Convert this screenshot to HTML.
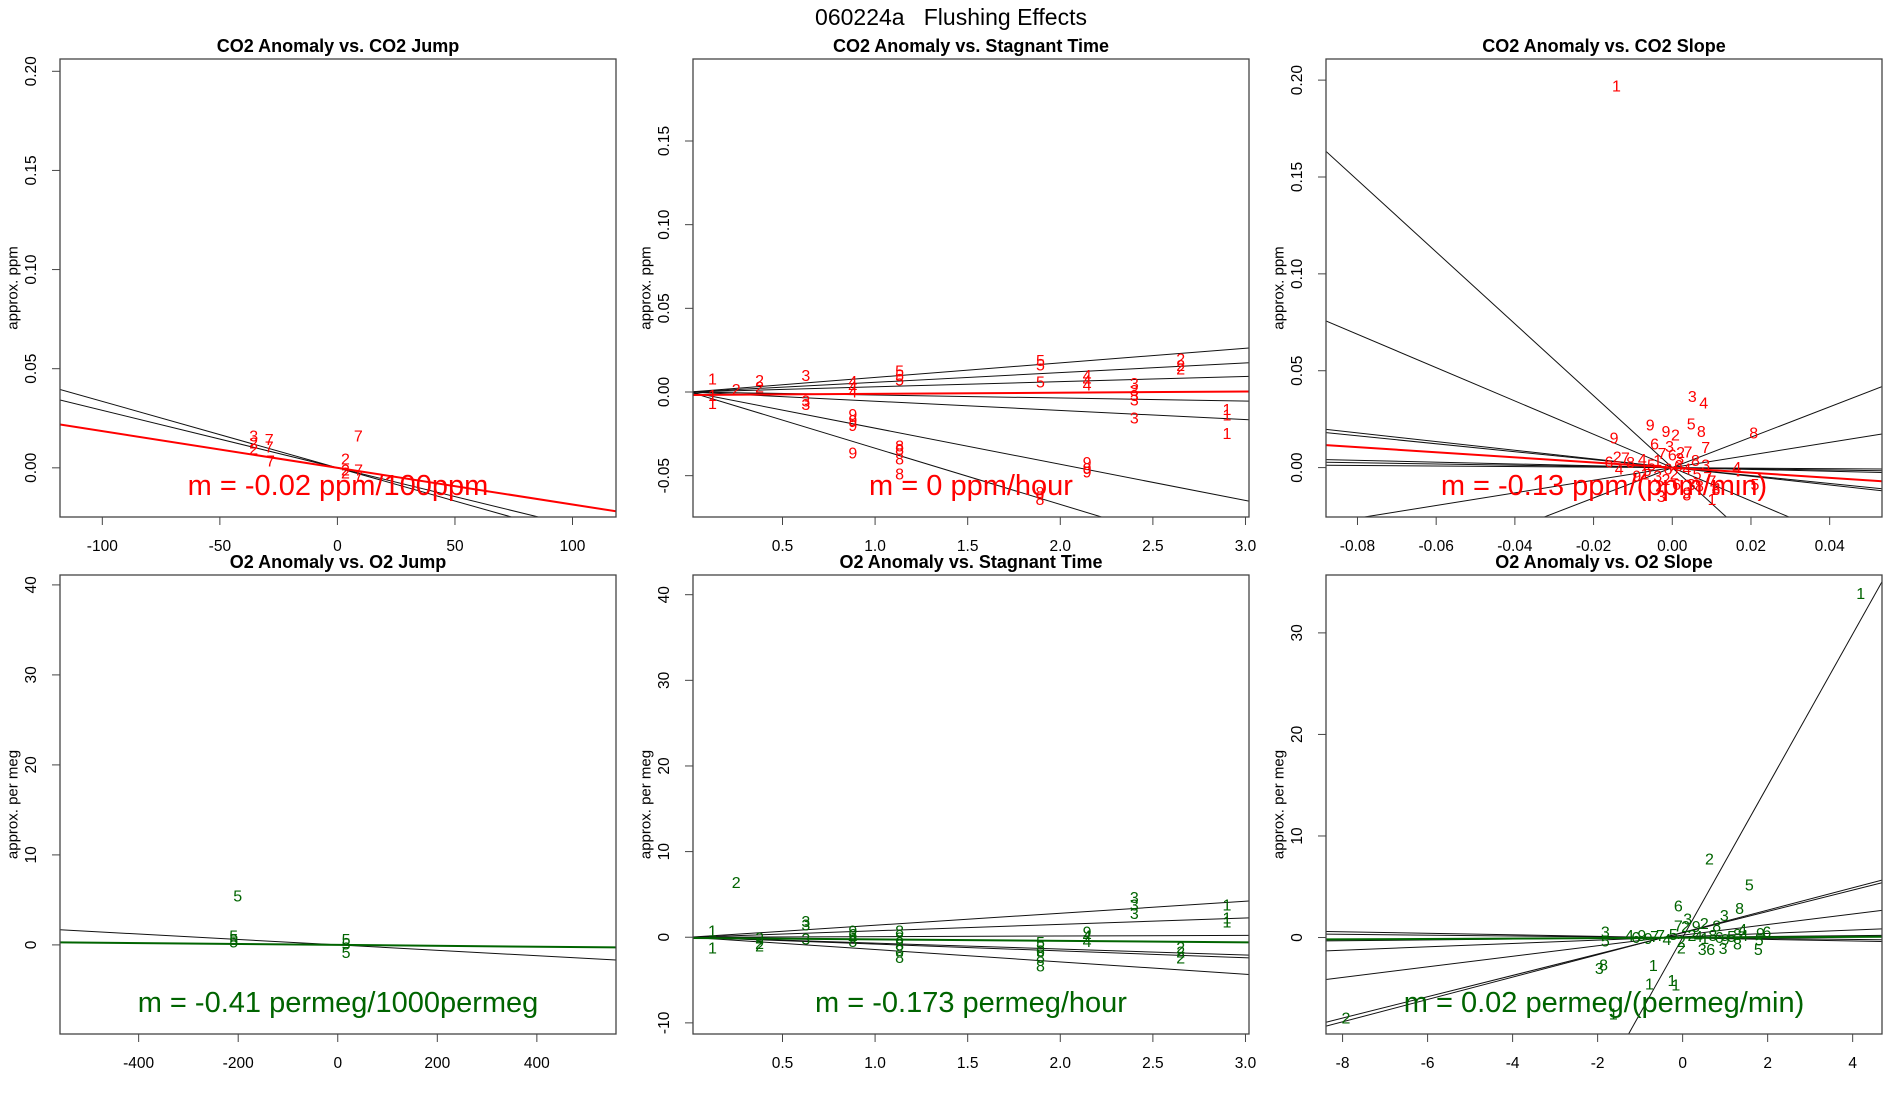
<!DOCTYPE html>
<html><head><meta charset="utf-8">
<style>
html,body{margin:0;padding:0;background:#fff;width:1900px;height:1100px;overflow:hidden;}
svg{display:block;font-family:"Liberation Sans",Arial,sans-serif;}
</style></head>
<body>
<svg id="fig" width="1900" height="1100" viewBox="0 0 1900 1100" xmlns="http://www.w3.org/2000/svg">
<text x="951" y="25" text-anchor="middle" font-size="23" fill="#000" style="white-space:pre" xml:space="preserve">060224a   Flushing Effects</text>
</svg>
<script>
// ---------- Panel 1: CO2 Anomaly vs. CO2 Jump ----------
const p1X=[-35.6,-35.6,-35.6,-29,-29,-28.5,8.9,3.4,3.4,3.4,9,9];
const p1Y=[0.0155,0.012,0.009,0.0137,0.010,0.003,0.0155,0.004,-0.0015,-0.003,-0.0015,-0.005];
const p1Lab=["3","2","2","7","7","7","7","2","2","2","7","7"];
const p1Slopes=[-0.000335,-0.000290];
const p1Icepts=[0,0];
const p1FitSlope=-0.000185, p1FitIcept=0;
const p1XTicks=[-100,-50,0,50,100];
const p1XTickLabels=["-100","-50","0","50","100"];
const p1YTicks=[0,0.05,0.10,0.15,0.20];
const p1YTickLabels=["0.00","0.05","0.10","0.15","0.20"];

// ---------- Panel 2: CO2 Anomaly vs. Stagnant Time ----------
const p2X=[0.122,0.122,0.122,0.25,0.376,0.376,0.626,0.626,0.626,0.88,0.88,0.88,0.88,0.88,0.88,0.88,1.132,1.132,1.132,1.132,1.132,1.132,1.132,1.893,1.893,1.893,1.89,1.89,2.145,2.145,2.145,2.145,2.145,2.145,2.4,2.4,2.4,2.4,2.4,2.65,2.65,2.65,2.9,2.9,2.9];
const p2Y=[0.0072,-0.0027,-0.0076,0.0008,0.0063,0.0025,0.0093,-0.0059,-0.008,0.0057,0.0025,-0.0006,-0.0139,-0.0175,-0.0206,-0.037,0.012,0.0093,0.0067,-0.0329,-0.035,-0.0407,-0.0497,0.0183,0.0156,0.0053,-0.0607,-0.0649,0.0093,0.0063,0.0036,-0.0428,-0.0464,-0.0485,0.0046,0.0004,-0.0027,-0.0055,-0.016,0.019,0.0152,0.013,-0.0112,-0.0143,-0.0253];
const p2Lab=["1","1","1","2","2","2","3","3","3","4","4","4","9","9","9","9","5","5","5","8","8","8","8","5","5","5","8","8","4","4","4","9","9","9","3","3","3","3","3","2","2","2","1","1","1"];
const p2Slopes=[0.0087,0.0058,0.0031,-0.0018,-0.0055,-0.0216,-0.0336];
const p2Icepts=[0,0,0,0,0,0,0];
const p2FitSlope=0.0007, p2FitIcept=-0.0018;
const p2XTicks=[0.5,1.0,1.5,2.0,2.5,3.0];
const p2XTickLabels=["0.5","1.0","1.5","2.0","2.5","3.0"];
const p2YTicks=[-0.05,0,0.05,0.10,0.15];
const p2YTickLabels=["-0.05","0.00","0.05","0.10","0.15"];

// ---------- Panel 3: CO2 Anomaly vs. CO2 Slope ----------
const p3X=[-0.0142,0.0051,0.0080,-0.0056,-0.0148,-0.0016,0.0008,0.0048,0.0074,0.0207,-0.0045,-0.0007,0.0085,0.0164,0.021,0.0101,-0.0028,0.0037,
-0.0161,-0.0140,-0.0119,-0.0135,-0.0106,-0.0076,-0.0053,-0.0037,-0.0026,0.0000,0.0021,0.0040,0.0019,0.0059,0.0085,0.0016,-0.0011,0.0005,0.0037,0.0063,0.0090,0.0101,-0.0090,-0.0069,-0.0064,-0.0037,-0.0016,-0.0032,0.0011,0.0048,0.0069,0.0111,0.0037,0.0111];
const p3Y=[0.1964,0.0361,0.0329,0.0215,0.0148,0.018,0.0162,0.0219,0.018,0.0174,0.0116,0.0103,0.0098,-0.0004,-0.0092,-0.0169,-0.0155,-0.0137,
0.0023,0.0050,0.0044,-0.0012,0.0020,0.0037,0.0009,0.0032,0.0068,0.0059,0.0073,0.0076,0.0041,0.0032,0.0009,0.0005,-0.0012,-0.0039,-0.0012,-0.0039,-0.0057,-0.0075,-0.0048,-0.0039,-0.0021,-0.0048,-0.0066,-0.0101,-0.0092,-0.0092,-0.0101,-0.0110,-0.0146,-0.0119];
const p3Lab=["1","3","4","9","9","9","2","5","8","8","6","3","7","4","5","1","3","9",
"6","2","7","4","8","4","5","1","7","6","2","7","3","8","3","6","6","2","4","5","7","7","9","1","5","3","2","2","6","3","8","8","8","3"];
const p3Slopes=[-1.855,-0.86,-0.224,-0.205,-0.047,-0.031,-0.014,0.784,0.326];
const p3Icepts=[0,0,0,0,0,0,0,0,0];
const p3FitSlope=-0.132, p3FitIcept=0;
const p3XTicks=[-0.08,-0.06,-0.04,-0.02,0,0.02,0.04];
const p3XTickLabels=["-0.08","-0.06","-0.04","-0.02","0.00","0.02","0.04"];
const p3YTicks=[0,0.05,0.10,0.15,0.20];
const p3YTickLabels=["0.00","0.05","0.10","0.15","0.20"];

// ---------- Panel 4: O2 Anomaly vs. O2 Jump ----------
const p4X=[-201,-209,-209,-209,16.8,16.8,16.8];
const p4Y=[5.3,0.86,0.47,0.2,0.47,0,-0.98];
const p4Lab=["5","5","5","5","5","5","5"];
const p4Slopes=[-0.00301];
const p4Icepts=[0];
const p4FitSlope=-0.0005, p4FitIcept=0;
const p4XTicks=[-400,-200,0,200,400];
const p4XTickLabels=["-400","-200","0","200","400"];
const p4YTicks=[0,10,20,30,40];
const p4YTickLabels=["0","10","20","30","40"];

// ---------- Panel 5: O2 Anomaly vs. Stagnant Time ----------
const p5X=[0.25,0.122,0.122,0.376,0.376,0.376,0.626,0.626,0.626,0.88,0.88,0.88,0.88,1.132,1.132,1.132,1.132,1.132,1.893,1.893,1.893,1.893,1.893,2.145,2.145,2.145,2.4,2.4,2.4,2.65,2.65,2.65,2.9,2.9,2.9];
const p5Y=[6.25,0.62,-1.36,-0.2,-0.82,-1.15,1.73,1.32,-0.33,0.62,0.2,-0.2,-0.62,0.62,-0.2,-1.03,-1.64,-2.47,-0.74,-1.23,-1.73,-2.47,-3.5,0.49,0,-0.62,4.52,3.62,2.67,-1.32,-1.85,-2.55,3.62,2.14,1.64];
const p5Lab=["2","1","1","2","2","2","3","3","3","9","6","4","8","8","8","8","8","8","5","5","6","8","8","9","4","4","3","3","3","2","2","2","1","1","1"];
const p5Slopes=[1.40,0.75,0.07,-0.69,-0.80,-1.44];
const p5Icepts=[0,0,0,0,0,0];
const p5FitSlope=-0.173, p5FitIcept=-0.08;
const p5XTicks=[0.5,1.0,1.5,2.0,2.5,3.0];
const p5XTickLabels=["0.5","1.0","1.5","2.0","2.5","3.0"];
const p5YTicks=[-10,0,10,20,30,40];
const p5YTickLabels=["-10","0","10","20","30","40"];

// ---------- Panel 6: O2 Anomaly vs. O2 Slope ----------
const p6X=[4.19,0.63,1.57,1.34,-0.1,0.98,0.12,-1.82,-1.82,-1.96,-1.86,-0.69,-0.78,-0.25,-0.16,-1.63,-7.92,0.46,0.66,0.95,1.29,1.78,1.8,1.98,1.83,-0.03,-0.03,
-1.25,-1.1,-0.96,-0.81,-0.66,-0.52,-0.37,-0.22,0.22,0.37,0.52,0.71,0.86,1.0,1.15,1.29,1.44,-0.1,0.07,0.32,0.51,0.8,1.41];
const p6Y=[33.8,7.65,5.07,2.78,2.99,2.09,1.74,0.45,-0.42,-3.13,-2.78,-2.85,-4.66,-4.31,-4.76,-7.65,-8.0,-1.29,-1.29,-1.18,-0.76,-1.29,-0.35,0.45,0.28,-1.11,-0.5,
0.1,-0.1,0.1,-0.2,0,0.1,-0.3,0.2,0.1,0,-0.2,0.1,-0.1,-0.3,0,0.2,0.1,1.05,0.98,0.98,1.26,1.05,0.7];
const p6Lab=["1","2","5","8","6","3","3","3","5","3","8","1","1","1","1","1","2","3","6","3","8","5","5","6","9","2","2",
"4","6","9","9","7","7","4","5","2","4","1","8","6","9","5","8","4","7","2","9","2","8","4"];
const p6Slopes=[7.47,0.52,1.05,1.10,0.165,-0.075,-0.042,0.042];
const p6Icepts=[0,0.234,0.47,0.5,0.074,-0.034,-0.019,0.019];
const p6FitSlope=0.02, p6FitIcept=-0.02;
const p6XTicks=[-8,-6,-4,-2,0,2,4];
const p6XTickLabels=["-8","-6","-4","-2","0","2","4"];
const p6YTicks=[0,10,20,30];
const p6YTickLabels=["0","10","20","30"];

const NS="http://www.w3.org/2000/svg";
const svg=document.getElementById('fig');
function mk(tag,attrs,parent){const e=document.createElementNS(NS,tag);for(const k in attrs)e.setAttribute(k,attrs[k]);(parent||svg).appendChild(e);return e;}

function panel(id,L,T,R,B,xd,yd,title,ylab,xs,ys,labs,slopes,icepts,fs,fi,color,xt,xtl,yt,ytl,mtext,mY){
  const g=mk('g',{});
  
  
  const sx=v=>L+(v-xd[0])/(xd[1]-xd[0])*(R-L);
  const sy=v=>B-(v-yd[0])/(yd[1]-yd[0])*(B-T);
  const cp=mk('clipPath',{id:'clip-'+id},g);
  mk('rect',{x:L,y:T,width:R-L,height:B-T},cp);
  const t=mk('text',{x:(L+R)/2,y:T-7,'text-anchor':'middle','font-size':18,'font-weight':'bold',fill:'#000'},g);
  t.textContent=title;
  
  
  const yl=mk('text',{x:L-47,y:(T+B)/2,'text-anchor':'middle','font-size':15,fill:'#000',transform:`rotate(-90 ${L-47} ${(T+B)/2})`,'dominant-baseline':'central'},g);
  yl.textContent=ylab;
  
  
  const lg=mk('g',{'clip-path':`url(#clip-${id})`},g);
  
  
  for(let i=0;i<slopes.length;i++){
    const l=mk('line',{x1:sx(xd[0]),y1:sy(icepts[i]+slopes[i]*xd[0]),x2:sx(xd[1]),y2:sy(icepts[i]+slopes[i]*xd[1]),stroke:'#111','stroke-width':1},lg);
    
    
  }
  const fl=mk('line',{x1:sx(xd[0]),y1:sy(fi+fs*xd[0]),x2:sx(xd[1]),y2:sy(fi+fs*xd[1]),stroke:color,'stroke-width':2},lg);
  
  
  for(let i=0;i<xs.length;i++){
    const p=mk('text',{x:sx(xs[i]),y:sy(ys[i]),'text-anchor':'middle','dominant-baseline':'central','font-size':16,fill:color},lg);
    p.textContent=labs[i];
    
    
  }
  const box=mk('rect',{x:L,y:T,width:R-L,height:B-T,fill:'none',stroke:'#444','stroke-width':1.3},g);
  
  
  for(let i=0;i<xt.length;i++){
    const x=sx(xt[i]);
    const tk=mk('line',{x1:x,y1:B,x2:x,y2:B+8,stroke:'#444'},g);
    
    
    const tl=mk('text',{x:x,y:B+34,'text-anchor':'middle','font-size':15.5,fill:'#000'},g);
    tl.textContent=xtl[i];
    
    
  }
  for(let i=0;i<yt.length;i++){
    const y=sy(yt[i]);
    const tk=mk('line',{x1:L-8,y1:y,x2:L,y2:y,stroke:'#444'},g);
    
    
    const tl=mk('text',{x:L-24,y:y,'text-anchor':'middle','font-size':15.5,fill:'#000',transform:`rotate(-90 ${L-24} ${y})`},g);
    tl.textContent=ytl[i];
    
    
  }
  const m=mk('text',{x:(L+R)/2,y:mY,'text-anchor':'middle','dominant-baseline':'central','font-size':29,fill:color},g);
  m.textContent=mtext;
  
  
}
const T1=59,B1=517,T2=575,B2=1034;
panel('panel-co2-jump',60,T1,616,B1,[-118,118.5],[-0.0248,0.2062],'CO2 Anomaly vs. CO2 Jump','approx. ppm',p1X,p1Y,p1Lab,p1Slopes,p1Icepts,p1FitSlope,p1FitIcept,'#ff0000',p1XTicks,p1XTickLabels,p1YTicks,p1YTickLabels,'m = -0.02 ppm/100ppm',486);
panel('panel-co2-stagnant',693,T1,1249,B1,[0.0168,3.019],[-0.0747,0.199],'CO2 Anomaly vs. Stagnant Time','approx. ppm',p2X,p2Y,p2Lab,p2Slopes,p2Icepts,p2FitSlope,p2FitIcept,'#ff0000',p2XTicks,p2XTickLabels,p2YTicks,p2YTickLabels,'m = 0 ppm/hour',486);
panel('panel-co2-slope',1326,T1,1882,B1,[-0.088,0.0533],[-0.0255,0.2109],'CO2 Anomaly vs. CO2 Slope','approx. ppm',p3X,p3Y,p3Lab,p3Slopes,p3Icepts,p3FitSlope,p3FitIcept,'#ff0000',p3XTicks,p3XTickLabels,p3YTicks,p3YTickLabels,'m = -0.13 ppm/(ppm/min)',486);
panel('panel-o2-jump',60,T2,616,B2,[-558,559],[-9.9,41.1],'O2 Anomaly vs. O2 Jump','approx. per meg',p4X,p4Y,p4Lab,p4Slopes,p4Icepts,p4FitSlope,p4FitIcept,'#006400',p4XTicks,p4XTickLabels,p4YTicks,p4YTickLabels,'m = -0.41 permeg/1000permeg',1003);
panel('panel-o2-stagnant',693,T2,1249,B2,[0.0168,3.019],[-11.3,42.3],'O2 Anomaly vs. Stagnant Time','approx. per meg',p5X,p5Y,p5Lab,p5Slopes,p5Icepts,p5FitSlope,p5FitIcept,'#006400',p5XTicks,p5XTickLabels,p5YTicks,p5YTickLabels,'m = -0.173 permeg/hour',1003);
panel('panel-o2-slope',1326,T2,1882,B2,[-8.39,4.69],[-9.5,35.7],'O2 Anomaly vs. O2 Slope','approx. per meg',p6X,p6Y,p6Lab,p6Slopes,p6Icepts,p6FitSlope,p6FitIcept,'#006400',p6XTicks,p6XTickLabels,p6YTicks,p6YTickLabels,'m = 0.02 permeg/(permeg/min)',1003);
</script>
</body></html>
